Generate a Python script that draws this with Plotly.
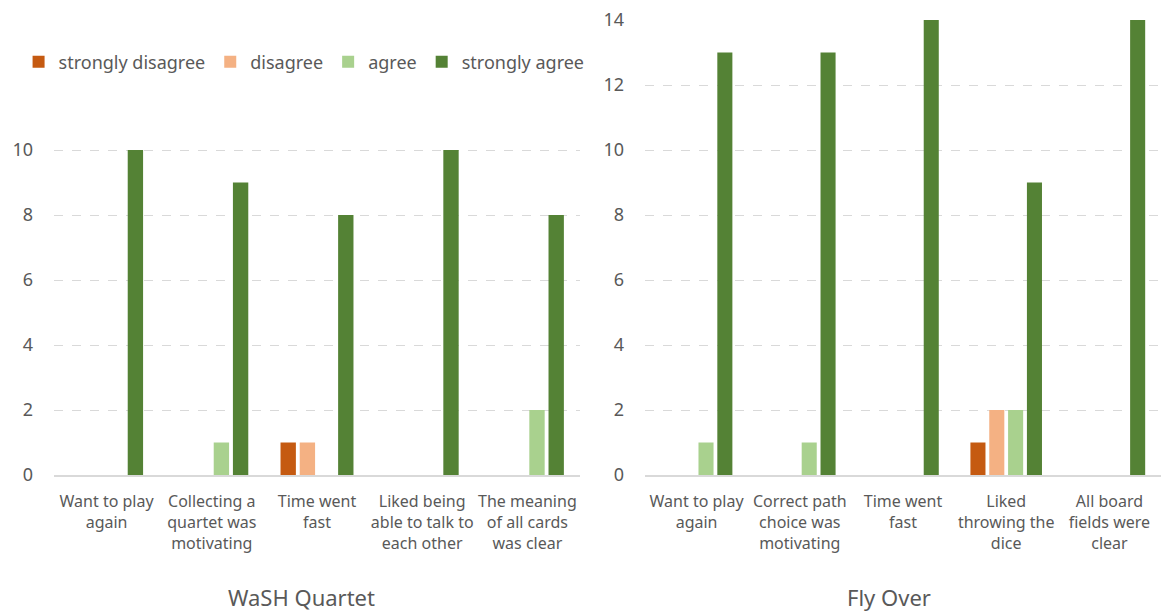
import plotly.graph_objects as go

# Survey responses per statement (counts of participants)
levels = ["strongly disagree", "disagree", "agree", "strongly agree"]
colors = ["#C55A11", "#F4B183", "#A9D18E", "#548235"]

wash_labels = [
    "Want to play<br>again",
    "Collecting a<br>quartet was<br>motivating",
    "Time went<br>fast",
    "Liked being<br>able to talk to<br>each other",
    "The meaning<br>of all cards<br>was clear",
]
wash_strongly_disagree = [0, 0, 1, 0, 0]
wash_disagree = [0, 0, 1, 0, 0]
wash_agree = [0, 1, 0, 0, 2]
wash_strongly_agree = [10, 9, 8, 10, 8]

fly_labels = [
    "Want to play<br>again",
    "Correct path<br>choice was<br>motivating",
    "Time went<br>fast",
    "Liked<br>throwing the<br>dice",
    "All board<br>fields were<br>clear",
]
fly_strongly_disagree = [0, 0, 0, 1, 0]
fly_disagree = [0, 0, 0, 2, 0]
fly_agree = [1, 1, 0, 2, 0]
fly_strongly_agree = [13, 13, 14, 9, 14]

wash_series = [wash_strongly_disagree, wash_disagree, wash_agree, wash_strongly_agree]
fly_series = [fly_strongly_disagree, fly_disagree, fly_agree, fly_strongly_agree]

FONT = "Noto Sans"
TXT = "#595959"
GRID = "#D9D9D9"

W, H = 1161, 611
TOP, BOTTOM = 20, 475  # pixel rows of the plot area


def py(row):
    """Paper y coordinate for a pixel row."""
    return (BOTTOM - row) / (BOTTOM - TOP)


fig = go.Figure()
for name, col, vals in zip(levels, colors, wash_series):
    fig.add_trace(go.Bar(x=wash_labels, y=vals, name=name, marker_color=col,
                         marker_line_width=0, legendgroup=name, showlegend=True,
                         xaxis="x", yaxis="y"))
for name, col, vals in zip(levels, colors, fly_series):
    fig.add_trace(go.Bar(x=fly_labels, y=vals, name=name, marker_color=col,
                         marker_line_width=0, legendgroup=name, showlegend=False,
                         xaxis="x2", yaxis="y2"))

axis_common = dict(showgrid=False, ticks="", showline=True, linecolor=GRID, linewidth=1.5,
                   ticklabelstandoff=11,
                   tickfont=dict(family=FONT, size=16, color=TXT))
yaxis_common = dict(showgrid=True, gridcolor=GRID, griddash="dash", gridwidth=1,
                    zeroline=False, showline=False, ticks="", ticklabelstandoff=20,
                    tickfont=dict(family=FONT, size=18, color=TXT))

fig.update_layout(
    width=W, height=H,
    margin=dict(l=0, r=0, t=TOP, b=H - BOTTOM),
    paper_bgcolor="white", plot_bgcolor="white",
    barmode="group", bargap=0.27, bargroupgap=0.2,
    font=dict(family=FONT, color=TXT),
    xaxis=dict(domain=[54 / W, 580 / W], anchor="y", **axis_common),
    xaxis2=dict(domain=[645 / W, 1.0], anchor="y2", **axis_common),
    yaxis=dict(anchor="x", range=[0, 14], tickvals=[0, 2, 4, 6, 8, 10], **yaxis_common),
    yaxis2=dict(anchor="x2", range=[0, 14], tickvals=[0, 2, 4, 6, 8, 10, 12, 14], **yaxis_common),
    legend=dict(orientation="h", x=0.016, xanchor="left", y=py(62),
                yanchor="middle",
                font=dict(family=FONT, size=18, color=TXT),
                tracegroupgap=0, traceorder="normal"),
    annotations=[
        dict(text="WaSH Quartet", x=301 / W, y=py(597), xref="paper", yref="paper",
             xanchor="center", yanchor="middle", showarrow=False,
             font=dict(family=FONT, size=22, color=TXT)),
        dict(text="Fly Over", x=889 / W, y=py(597), xref="paper", yref="paper",
             xanchor="center", yanchor="middle", showarrow=False,
             font=dict(family=FONT, size=22, color=TXT)),
    ],
)

fig.write_html("out.html")
